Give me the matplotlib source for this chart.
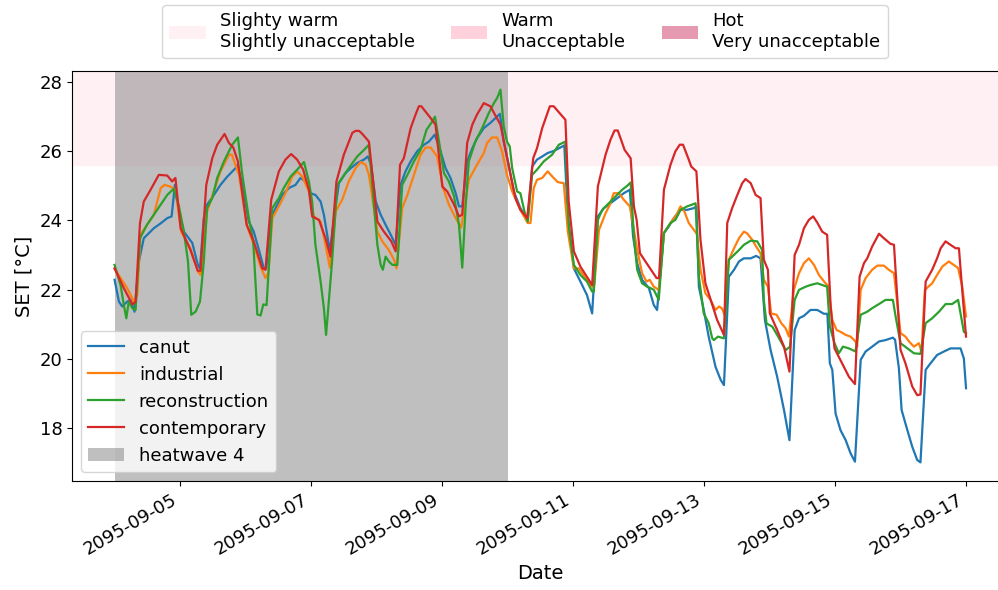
import matplotlib
matplotlib.use("Agg")
import matplotlib.pyplot as plt
import matplotlib.dates as mdates
from matplotlib.patches import Patch
import numpy as np
import pandas as pd

plt.rcParams['font.family'] = ['DejaVu Sans']
plt.rcParams['font.size'] = 13

start = pd.Timestamp("2095-09-04 00:00")
heatwave_start = pd.Timestamp("2095-09-04 00:00")
heatwave_end = pd.Timestamp("2095-09-10 00:00")
band_low = 25.6
band_high = 30.0

# hours since 2095-09-04 00:00, SET values [°C]
canut_h = [0, 1.6, 2.8, 4.6, 5.9, 7.3, 8.9, 10.7, 12.6, 14.4, 16.9, 19.3, 20.9, 22.1, 23.6, 25.4, 27.2, 28.5, 30.5, 31.3,
           32.7, 33.9, 36.4, 38.8, 41.3, 44.3, 45.0, 46.8, 49.2, 51.0, 52.9, 54.7, 55.6, 57.2, 59.0, 61.4, 63.9, 66.3, 68.1,
           70.0, 71.8, 73.6, 75.5, 76.7, 78.9, 80.4, 82.2, 84.6, 86.5, 88.9, 91.4, 92.8, 94.0, 95.7, 97.5, 99.3, 101.2,
           103.0, 104.8, 106.6, 108.5, 110.9, 113.4, 115.2, 117.3, 118.9, 121.3, 123.1, 125.0, 126.2, 127.4, 129.2, 131.1,
           132.8, 135.3, 137.7, 139.6, 141.2, 142.6, 144.4, 146.3, 148.7, 151.4, 153.0, 154.8, 156.7, 158.7, 160.9, 163.4,
           164.8, 166.1, 168.3, 170.7, 173.1, 175.0, 177.1, 179.3, 181.7, 184.2, 186.6, 188.8, 190.0, 191.5, 193.3, 195.8,
           197.6, 198.8, 201.3, 203.1, 204.9, 207.4, 209.8, 212.3, 213.2, 214.1, 215.9, 217.7, 220.2, 222.1, 223.3, 225.1,
           227.0, 228.8, 230.6, 233.1, 235.1, 236.7, 238.3, 240.4, 242.8, 245.3, 247.3, 249.2, 250.8, 252.6, 255.0, 257.5,
           259.9, 261.2, 262.1, 263.0, 264.2, 266.0, 267.9, 269.7, 271.3, 273.4, 275.2, 277.6, 280.1, 282.5, 285.2, 286.0,
           287.4, 288.4, 290.5, 292.3, 294.1, 295.3, 297.2, 299.0, 301.4, 303.9, 306.3, 310.0, 311.2, 312.0]
canut_v = [22.28, 21.65, 21.51, 21.65, 21.70, 21.36, 22.81, 23.48, 23.63, 23.77, 23.91, 24.06, 24.11, 25.02, 24.25, 23.67,
           23.48, 23.34, 22.71, 22.61, 24.06, 24.45, 24.73, 25.02, 25.26, 25.50, 25.60, 25.02, 23.96, 23.67, 23.14, 22.61,
           22.61, 24.06, 24.35, 24.73, 24.93, 25.02, 25.22, 25.12, 24.78, 24.73, 24.54, 24.16, 23.10, 24.06, 25.07, 25.36,
           25.50, 25.65, 25.75, 25.84, 25.60, 24.54, 24.16, 23.87, 23.58, 23.29, 25.02, 25.41, 25.70, 25.99, 26.18, 26.27,
           26.47, 26.13, 25.50, 25.22, 24.78, 24.40, 24.40, 25.70, 26.08, 26.37, 26.66, 26.81, 26.95, 27.07, 26.27, 25.60,
           24.83, 24.35, 24.01, 25.55, 25.75, 25.84, 25.94, 26.00, 26.10, 26.16, 24.06, 22.61, 22.23, 21.84, 21.31, 24.11,
           24.35, 24.49, 24.64, 24.78, 24.88, 23.53, 22.76, 22.28, 22.04, 21.55, 21.41, 23.63, 23.82, 24.06, 24.30, 24.30,
           24.35, 24.40, 22.08, 21.41, 20.64, 19.77, 19.39, 19.24, 22.37, 22.57, 22.81, 22.90, 22.90, 22.97, 22.90, 21.12,
           20.25, 19.48, 18.52, 17.65, 20.83, 21.17, 21.24, 21.41, 21.41, 21.30, 21.30, 19.87, 19.68, 18.42, 17.94, 17.65,
           17.27, 17.03, 19.97, 20.21, 20.35, 20.50, 20.54, 20.61, 20.55, 19.73, 18.52, 17.94, 17.46, 17.08, 17.01, 19.68,
           19.87, 20.11, 20.21, 20.30, 20.30, 20.01, 19.15]

industrial_h = [0, 2.2, 4.6, 7.1, 8.3, 9.5, 11.9, 14.4, 16.9, 18.3, 20.5, 22.3, 24.4, 27.8, 30.5, 31.5, 33.9, 36.4, 38.8,
                41.9, 43.0, 45.6, 48.4, 51.0, 53.5, 55.3, 56.4, 57.8, 60.2, 62.6, 65.1, 66.9, 68.8, 71.2, 73.0, 75.5, 77.3,
                78.9, 81.0, 83.4, 85.8, 88.3, 90.2, 92.0, 93.2, 96.3, 98.1, 100.5, 102.4, 103.3, 105.4, 107.3, 109.7, 112.1,
                114.0, 115.8, 118.2, 120.4, 122.5, 125.0, 127.0, 129.8, 132.8, 135.3, 136.5, 138.3, 140.2, 142.0, 143.8,
                145.7, 148.7, 151.4, 152.4, 153.6, 154.8, 156.7, 158.7, 160.9, 162.4, 164.6, 166.1, 168.3, 170.1, 172.5,
                175.0, 175.8, 177.5, 179.9, 181.5, 182.9, 184.8, 186.6, 188.8, 190.3, 191.5, 193.3, 194.9, 196.1, 197.6,
                199.4, 201.3, 203.7, 205.9, 207.4, 208.8, 210.4, 212.3, 213.4, 214.7, 216.5, 218.4, 220.2, 221.5, 222.6,
                223.5, 225.1, 227.0, 228.8, 230.6, 231.8, 233.7, 235.5, 236.7, 237.9, 239.4, 240.6, 242.6, 244.3, 245.9,
                247.1, 248.9, 250.8, 252.6, 254.4, 256.3, 258.1, 260.5, 261.5, 263.0, 264.6, 266.0, 267.9, 269.7, 271.5,
                272.1, 273.4, 275.2, 277.6, 279.5, 281.9, 283.7, 285.6, 286.4, 288.0, 289.8, 291.1, 292.9, 294.7, 295.7,
                296.9, 299.6, 301.4, 303.3, 305.7, 307.5, 309.1, 310.6, 312.0]
industrial_v = [22.60, 22.33, 22.04, 21.65, 21.84, 23.58, 23.87, 24.16, 24.93, 25.02, 24.97, 24.88, 23.67, 23.19, 22.52,
                22.42, 24.25, 24.83, 25.41, 25.89, 25.89, 25.31, 23.87, 23.29, 22.66, 22.33, 22.50, 24.06, 24.40, 24.78,
                25.26, 25.41, 25.26, 24.83, 24.11, 23.96, 23.29, 22.63, 24.25, 24.59, 25.12, 25.50, 25.68, 25.60, 25.31,
                23.67, 23.39, 23.14, 22.86, 22.61, 24.35, 24.73, 25.31, 25.89, 26.10, 26.10, 25.84, 24.93, 24.45, 24.06,
                23.79, 25.17, 25.60, 25.94, 26.23, 26.39, 26.39, 25.99, 25.31, 24.83, 24.30, 23.92, 23.92, 24.93, 25.17,
                25.22, 25.41, 25.22, 25.10, 25.07, 23.67, 22.61, 22.61, 22.33, 22.08, 22.13, 23.72, 24.20, 24.45, 24.78,
                24.78, 24.59, 24.40, 23.72, 23.14, 22.47, 22.23, 22.28, 22.08, 21.99, 23.63, 23.92, 24.16, 24.40, 24.25,
                23.92, 23.72, 23.60, 22.57, 21.89, 21.70, 21.41, 21.51, 21.45, 21.27, 22.86, 23.19, 23.48, 23.67, 23.62,
                23.43, 23.19, 23.05, 22.28, 22.08, 21.31, 21.27, 21.03, 20.88, 20.64, 21.99, 22.47, 22.76, 22.90, 22.71,
                22.42, 22.18, 22.10, 21.12, 20.83, 20.78, 20.69, 20.64, 20.50, 20.35, 21.99, 22.33, 22.57, 22.69, 22.69,
                22.57, 22.47, 21.89, 20.74, 20.64, 20.50, 20.35, 20.45, 20.21, 21.99, 22.18, 22.42, 22.66, 22.81, 22.71,
                22.62, 22.09, 21.22]

reconstruction_h = [0, 2.2, 3.4, 4.3, 5.2, 6.5, 7.7, 9.3, 11.9, 14.4, 16.9, 19.3, 21.7, 23.6, 25.4, 26.9, 28.1, 29.7, 31.3,
                    32.7, 33.9, 35.8, 37.6, 40.1, 43.1, 45.2, 46.8, 49.2, 50.8, 52.3, 53.5, 54.5, 55.7, 57.8, 60.2, 62.0,
                    64.5, 66.9, 69.4, 71.2, 72.4, 73.6, 75.5, 76.7, 77.5, 78.5, 79.7, 81.6, 83.4, 85.8, 88.9, 91.4, 93.2,
                    94.4, 96.3, 97.5, 98.3, 99.3, 100.5, 101.8, 103.6, 105.4, 107.3, 109.7, 112.1, 114.3, 116.4, 117.4,
                    118.9, 120.7, 122.5, 124.4, 126.2, 127.4, 128.6, 129.8, 132.2, 134.7, 137.1, 139.0, 140.2, 141.4,
                    142.6, 143.8, 144.8, 145.7, 147.5, 148.7, 150.2, 151.4, 153.0, 154.8, 157.3, 160.3, 162.8, 165.2,
                    166.4, 168.3, 170.7, 173.1, 175.0, 175.6, 177.1, 178.7, 181.1, 183.6, 186.0, 187.8, 189.1, 190.3,
                    191.5, 193.3, 195.2, 196.4, 197.6, 199.4, 201.3, 203.7, 205.5, 207.4, 209.8, 211.6, 212.9, 214.1,
                    215.9, 217.7, 219.0, 219.6, 221.1, 223.3, 225.1, 227.0, 228.8, 230.6, 233.1, 235.5, 237.3, 237.9,
                    238.9, 241.0, 242.8, 245.9, 247.5, 249.2, 250.8, 253.2, 255.0, 257.5, 259.3, 261.1, 262.1, 263.8,
                    265.4, 266.9, 269.1, 271.5, 273.4, 275.8, 277.6, 280.1, 282.5, 285.2, 286.2, 288.0, 290.5, 292.9,
                    295.3, 297.2, 299.6, 302.1, 304.5, 306.9, 309.1, 311.2, 312.0]
reconstruction_v = [22.71, 22.13, 21.55, 21.17, 21.65, 21.46, 21.41, 23.48, 23.87, 24.16, 24.45, 24.73, 24.91, 24.40, 23.67,
                    22.81, 21.27, 21.36, 21.65, 22.81, 24.35, 24.64, 25.22, 25.70, 26.18, 26.39, 25.31, 24.06, 23.39,
                    21.28, 21.25, 21.57, 21.55, 24.35, 24.64, 24.93, 25.26, 25.46, 25.68, 25.12, 24.54, 23.29, 22.23,
                    21.46, 20.69, 21.65, 22.81, 25.02, 25.22, 25.50, 25.84, 26.03, 26.18, 25.02, 23.29, 22.71, 22.57,
                    22.95, 22.81, 22.71, 22.71, 25.02, 25.31, 25.70, 26.03, 26.61, 26.85, 26.99, 26.27, 25.36, 25.12,
                    24.69, 23.87, 22.63, 24.35, 25.70, 26.27, 26.66, 27.09, 27.38, 27.53, 27.77, 26.71, 26.27, 26.13,
                    25.50, 24.83, 24.78, 24.25, 23.96, 25.31, 25.46, 25.70, 25.89, 26.18, 26.27, 23.87, 22.71, 22.42,
                    22.23, 21.94, 21.94, 24.01, 24.30, 24.49, 24.69, 24.88, 24.99, 25.09, 23.53, 22.57, 22.18, 22.08,
                    22.04, 21.99, 21.70, 23.63, 23.92, 24.01, 24.30, 24.40, 24.45, 24.49, 22.37, 21.31, 21.03, 20.59,
                    20.54, 20.64, 20.59, 22.86, 23.00, 23.14, 23.29, 23.41, 23.39, 23.14, 21.70, 21.02, 20.93, 20.69,
                    20.25, 20.35, 21.70, 21.99, 22.08, 22.13, 22.18, 22.13, 22.08, 20.93, 20.45, 20.16, 20.35, 20.30,
                    20.21, 21.27, 21.36, 21.46, 21.58, 21.70, 21.70, 21.22, 20.45, 20.30, 20.16, 20.14, 21.03, 21.17,
                    21.36, 21.58, 21.58, 21.70, 20.78, 20.74]

contemporary_h = [0, 3.4, 6.5, 7.7, 9.3, 10.7, 13.2, 16.2, 19.3, 21.1, 22.3, 24.2, 27.8, 30.5, 31.5, 33.6, 35.8, 37.6, 40.3,
                  41.9, 43.5, 45.2, 48.4, 51.0, 54.1, 55.3, 57.4, 60.2, 62.6, 64.7, 66.9, 69.1, 71.2, 72.4, 74.9, 77.3, 79.1,
                  81.3, 84.0, 87.1, 88.3, 89.6, 90.8, 93.2, 96.3, 98.7, 101.4, 103.0, 104.6, 106.0, 108.5, 110.3, 111.5,
                  112.4, 115.8, 117.6, 120.1, 121.9, 124.4, 126.2, 127.4, 129.2, 131.1, 132.8, 135.3, 137.7, 141.4, 145.1,
                  146.9, 148.7, 151.2, 153.4, 154.8, 156.7, 159.5, 160.9, 165.2, 166.4, 168.3, 170.7, 175.0, 177.1, 179.9,
                  181.7, 183.2, 184.4, 185.6, 186.9, 189.1, 190.3, 191.3, 192.5, 195.8, 197.4, 198.6, 199.5, 201.3, 203.7,
                  205.5, 207.1, 208.3, 210.4, 211.3, 213.2, 214.7, 216.5, 220.8, 223.3, 224.5, 226.3, 228.2, 230.0, 231.2,
                  233.1, 234.9, 236.7, 237.9, 239.4, 240.1, 242.8, 245.3, 247.3, 249.2, 250.8, 252.6, 254.4, 256.0, 257.5,
                  259.3, 261.1, 262.4, 263.8, 266.6, 269.1, 271.3, 273.0, 274.6, 275.8, 277.6, 280.1, 281.9, 284.3, 285.6,
                  287.4, 288.0, 289.8, 292.3, 294.1, 295.3, 297.2, 299.6, 301.4, 302.7, 304.5, 306.3, 308.2, 309.4, 310.6,
                  312.0]
contemporary_v = [22.61, 22.04, 21.57, 21.65, 23.91, 24.54, 24.88, 25.31, 25.29, 25.12, 25.22, 23.77, 23.14, 22.54, 22.54,
                  25.02, 25.79, 26.18, 26.49, 26.23, 26.10, 25.70, 23.87, 23.39, 22.61, 22.57, 24.59, 25.41, 25.75, 25.91,
                  25.75, 25.46, 24.88, 24.11, 24.01, 23.48, 22.95, 25.12, 25.89, 26.52, 26.58, 26.58, 26.49, 26.27, 23.96,
                  23.67, 23.39, 23.10, 25.60, 25.79, 26.66, 27.05, 27.29, 27.29, 26.95, 26.76, 24.97, 24.83, 24.45, 24.11,
                  24.16, 26.23, 26.76, 27.05, 27.38, 27.29, 26.76, 25.31, 24.64, 24.30, 24.06, 25.79, 26.08, 26.66, 27.29,
                  27.29, 26.90, 24.54, 23.10, 22.66, 22.13, 24.98, 25.89, 26.32, 26.59, 26.59, 26.32, 26.03, 25.79, 24.40,
                  24.01, 23.05, 22.66, 22.47, 22.33, 22.33, 24.88, 25.60, 25.99, 26.18, 26.18, 25.75, 25.55, 25.41, 23.43,
                  22.18, 21.12, 20.69, 23.92, 24.35, 24.73, 25.07, 25.19, 25.07, 24.73, 24.64, 22.86, 22.57, 21.31, 20.83,
                  20.35, 19.63, 23.00, 23.29, 23.77, 24.01, 24.11, 23.93, 23.67, 23.58, 21.51, 20.30, 19.87, 19.48, 19.27,
                  22.37, 22.76, 22.90, 23.24, 23.61, 23.48, 23.32, 23.29, 21.03, 20.26, 19.87, 19.20, 18.95, 18.97, 22.23,
                  22.57, 22.90, 23.19, 23.39, 23.29, 23.19, 23.19, 21.99, 20.64]

series_names = ["canut", "industrial", "reconstruction", "contemporary"]
series_hours = [canut_h, industrial_h, reconstruction_h, contemporary_h]
series_values = [canut_v, industrial_v, reconstruction_v, contemporary_v]
series_colors = ["#1f77b4", "#ff7f0e", "#2ca02c", "#d62728"]

comfort_labels = ["Slighty warm\nSlightly unacceptable", "Warm\nUnacceptable", "Hot\nVery unacceptable"]
comfort_colors = ["#fff0f4", "#ffd1dc", "#e59ab2"]

fig = plt.figure(figsize=(9.98, 5.9), dpi=100)
ax = fig.add_axes([72 / 998, 1 - 481 / 590, (1008.6 - 72) / 998, (481 - 71) / 590])

ax.axhspan(band_low, band_high, color=comfort_colors[0], zorder=0)

for name, hrs, vals, col in zip(series_names, series_hours, series_values, series_colors):
    t = start + pd.to_timedelta(np.array(hrs), unit="h")
    ax.plot(t, vals, color=col, lw=1.6, label=name)

ax.axvspan(heatwave_start, heatwave_end, color="grey", alpha=0.5, lw=0, label="heatwave 4")

allv = np.concatenate([np.array(v) for v in series_values])
r = allv.max() - allv.min()
ax.set_ylim(allv.min() - 0.05 * r, allv.max() + 0.05 * r)
end = start + pd.Timedelta(hours=312)
span = end - start
ax.set_xlim(start - 0.05 * span, end + 0.05 * span)

ax.set_yticks([18, 20, 22, 24, 26, 28])
ax.xaxis.set_major_locator(mdates.DayLocator(bymonthday=[5, 7, 9, 11, 13, 15, 17]))
ax.xaxis.set_major_formatter(mdates.DateFormatter("%Y-%m-%d"))
plt.setp(ax.get_xticklabels(), rotation=30, ha="right")
ax.set_xlabel("Date", fontsize=14)
ax.set_ylabel("SET [°C]", fontsize=14)

ax.legend(loc="lower left", fontsize=13)

handles = [Patch(facecolor=c, edgecolor="none") for c in comfort_colors]
fig.legend(handles, comfort_labels, ncol=3, loc="upper center",
           bbox_to_anchor=(525 / 998, 1 + 4 / 590), fontsize=13)

fig.savefig("out.png", dpi=100)
